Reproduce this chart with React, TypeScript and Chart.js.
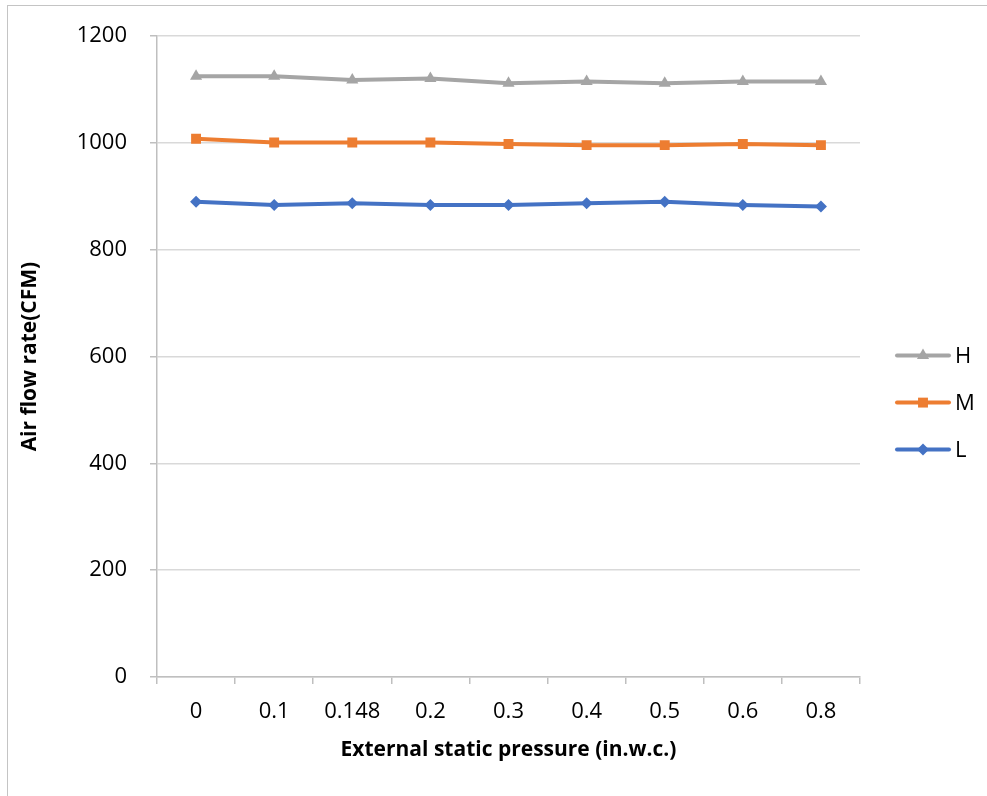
import React, { useEffect, useRef } from "react";
import { Chart, registerables } from "chart.js";

Chart.register(...registerables);

const categories = ["0", "0.1", "0.148", "0.2", "0.3", "0.4", "0.5", "0.6", "0.8"];
const seriesNames = ["H", "M", "L"];
const seriesH = [1125, 1125, 1118, 1121, 1112, 1115, 1112, 1115, 1115];
const seriesM = [1008, 1001, 1001, 1001, 998, 996, 996, 998, 996];
const seriesL = [890, 884, 887, 884, 884, 887, 890, 884, 881];
const yTickValues = [0, 200, 400, 600, 800, 1000, 1200];

const FONT = "'Open Sans', 'DejaVu Sans', sans-serif";

function drawMarker(ctx: CanvasRenderingContext2D, style: string, x: number, y: number, r: number) {
  ctx.beginPath();
  if (style === "triangle") {
    ctx.moveTo(x, y - r);
    ctx.lineTo(x + r * Math.sqrt(3) / 2, y + r / 2);
    ctx.lineTo(x - r * Math.sqrt(3) / 2, y + r / 2);
    ctx.closePath();
  } else if (style === "rect") {
    const s = Math.SQRT1_2 * r;
    ctx.rect(x - s, y - s, 2 * s, 2 * s);
  } else {
    ctx.moveTo(x, y - r);
    ctx.lineTo(x + r, y);
    ctx.lineTo(x, y + r);
    ctx.lineTo(x - r, y);
    ctx.closePath();
  }
  ctx.fill();
}

const sideLegend = {
  id: "sideLegend",
  afterDraw(chart: any) {
    const ctx: CanvasRenderingContext2D = chart.ctx;
    const area = chart.chartArea;
    const cy = (area.top + area.bottom) / 2 - 1;
    const gap = 47;
    const x0 = area.right + 37;
    ctx.save();
    chart.data.datasets.forEach((ds: any, i: number) => {
      const y = cy + i * gap;
      ctx.strokeStyle = ds.borderColor;
      ctx.fillStyle = ds.borderColor;
      ctx.lineWidth = ds.borderWidth;
      ctx.lineCap = "round";
      ctx.beginPath();
      ctx.moveTo(x0, y);
      ctx.lineTo(x0 + 52, y);
      ctx.stroke();
      drawMarker(ctx, ds.pointStyle, x0 + 26, y, ds.pointRadius);
      ctx.fillStyle = "#000";
      ctx.font = `22px ${FONT}`;
      ctx.textBaseline = "middle";
      ctx.textAlign = "left";
      ctx.fillText(ds.label, x0 + 58, y + 1);
    });
    ctx.restore();
  },
};

export default function App() {
  const ref = useRef<HTMLCanvasElement | null>(null);

  useEffect(() => {
    if (!ref.current) return;
    const chart = new Chart(ref.current, {
      type: "line",
      data: {
        labels: categories,
        datasets: [
          {
            label: seriesNames[0],
            data: seriesH,
            borderColor: "#a5a5a5",
            backgroundColor: "#a5a5a5",
            borderWidth: 4,
            pointStyle: "triangle",
            pointRadius: 7,
            pointBorderWidth: 0,
          },
          {
            label: seriesNames[1],
            data: seriesM,
            borderColor: "#ed7d31",
            backgroundColor: "#ed7d31",
            borderWidth: 4,
            pointStyle: "rect",
            pointRadius: 7,
            pointBorderWidth: 0,
          },
          {
            label: seriesNames[2],
            data: seriesL,
            borderColor: "#4472c4",
            backgroundColor: "#4472c4",
            borderWidth: 4,
            pointStyle: "rectRot",
            pointRadius: 6,
            pointBorderWidth: 0,
          },
        ] as any,
      },
      options: {
        animation: false,
        responsive: false,
        devicePixelRatio: 1,
        layout: { padding: { left: 13, top: 33, right: 127, bottom: 29 } },
        plugins: {
          legend: { display: false },
          tooltip: { enabled: false },
        },
        elements: { line: { tension: 0 } },
        scales: {
          x: {
            type: "category",
            offset: true,
            grid: {
              offset: true,
              drawOnChartArea: false,
              drawTicks: true,
              tickLength: 7,
              color: "#bfbfbf",
              lineWidth: 1.5,
            },
            border: { color: "#bfbfbf", width: 1.5 },
            ticks: {
              color: "#000",
              font: { family: FONT, size: 22 },
              padding: 15,
              maxRotation: 0,
            },
            title: {
              display: true,
              text: "External static pressure (in.w.c.)",
              color: "#000",
              font: { family: FONT, size: 21, weight: "bold" },
              padding: { top: 4, bottom: 4 },
            },
            afterFit(scale: any) {
              scale.height = 90;
            },
          },
          y: {
            min: 0,
            max: 1200,
            afterBuildTicks(scale: any) {
              scale.ticks = yTickValues.map((v) => ({ value: v }));
            },
            grid: {
              color: "#d9d9d9",
              lineWidth: 1.5,
              tickLength: 7,
              tickColor: "#bfbfbf",
            },
            border: { color: "#bfbfbf", width: 1.5 },
            ticks: {
              color: "#000",
              font: { family: FONT, size: 22 },
              padding: 23,
              callback: (v: any) => String(v),
            },
            title: {
              display: true,
              text: "Air flow rate(CFM)",
              color: "#000",
              font: { family: FONT, size: 21, weight: "bold" },
              padding: { top: 4, bottom: 4 },
            },
            afterFit(scale: any) {
              scale.width = 144;
            },
          },
        },
      },
      plugins: [sideLegend],
    } as any);
    return () => chart.destroy();
  }, []);

  return (
    <div
      style={{
        position: "absolute",
        left: 0,
        top: 0,
        width: 987,
        height: 796,
        overflow: "hidden",
        background: "#fff",
      }}
    >
      <div
        style={{
          position: "absolute",
          left: 7,
          top: 5,
          width: 1100,
          height: 1000,
          border: "1.5px solid #c4c4c4",
        }}
      />
      <canvas
        ref={ref}
        width={987}
        height={796}
        style={{ position: "absolute", left: 0, top: 0, width: 987, height: 796 }}
      />
    </div>
  );
}
